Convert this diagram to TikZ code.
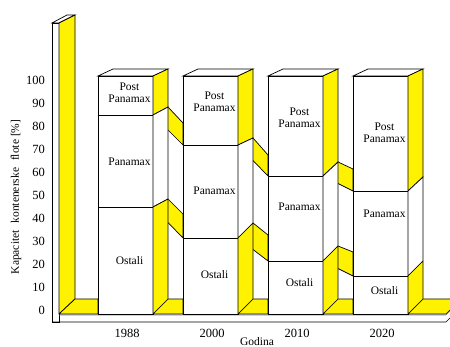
\documentclass[tikz,border=0pt]{standalone}
\usepackage{fontspec}
\setmainfont{Liberation Serif}
\begin{document}
\begin{tikzpicture}[x=1pt,y=-1pt,
    lice/.style={draw=black, fill=white, line width=0.7pt},
    bok/.style={draw=black, fill=yellow, line width=0.7pt, line join=round},
    oznaka/.style={font=\fontsize{11.5}{12}\selectfont, align=center, inner sep=0pt},
    broj/.style={font=\fontsize{12.5}{14}\selectfont, inner sep=0pt}]
    \useasboundingbox (0,0) rectangle (450,347);

    % Zid i pod
    \draw[lice] (52,23) rectangle (59,322);
    \draw[lice] (52,23) -- (67,15) -- (75,15) -- (59,23) -- cycle;
    \draw[bok] (59,23) -- (75,15) -- (75,299) -- (59,314) -- cycle;
    \draw[line width=0.7pt] (52,322) -- (446,322) -- (461,307);
    \draw[gray, line width=0.7pt] (59,315) -- (446,315) -- (461,300);
    \draw[bok] (59,314) -- (75,299) -- (98,299) -- (98,314) -- cycle;
    \draw[bok] (408,314) -- (423,299) -- (461,299) -- (446,314) -- cycle;

    % Skala
    \foreach \v in {0,10,...,100}
        \node[broj, anchor=east] (t\v) at (45,{310-2.3*\v}) {\v};
    \node[rotate=90, font=\fontsize{11.5}{12}\selectfont] (osy) at (16,197)
        {Kapacitet\hspace{4pt} kontenerske\hspace{4pt} flote [\%]};
    \node[font=\fontsize{11.5}{12}\selectfont, anchor=base] (osx) at (257,345.5) {Godina};

    % Veze izmedju stupaca
    \foreach \r/\pa/\ba/\ea/\na/\pb/\bb/\eb/\nb in
        {153/115/107/123/145/207/199/214/238,
         238/145/138/155/176/238/223/235/261,
         323/176/162/169/191/261/246/252/276}
    {
        \draw[bok] (\r,314) -- ({\r+15},299) -- ({\r+30},299) -- ({\r+30},314) -- cycle;
        \draw[bok] (\r,\pa) -- ({\r+15},\ba) -- ({\r+30},\ea) -- ({\r+30},\na) -- cycle;
        \draw[bok] (\r,\pb) -- ({\r+15},\bb) -- ({\r+30},\eb) -- ({\r+30},\nb) -- cycle;
    }

    % Stupci
    \foreach \l/\pa/\pb/\ba/\bb/\god/\ya/\yb/\yc in
        {98/115/207/107/199/1988/93/162/261,
         183/145/238/138/223/2000/102/191/275,
         268/176/261/162/246/2010/118/207/283,
         353/191/276/177/261/2020/133/214/291}
    {
        \draw[lice] (\l,76) rectangle ({\l+55},\pa);
        \draw[lice] (\l,\pa) rectangle ({\l+55},\pb);
        \draw[lice] (\l,\pb) rectangle ({\l+55},314);
        \draw[lice] (\l,76) -- ({\l+15},69) -- ({\l+70},69) -- ({\l+55},76) -- cycle;
        \draw[bok] ({\l+55},76) -- ({\l+70},69) -- ({\l+70},\ba) -- ({\l+55},\pa) -- cycle;
        \draw[lice] ({\l+55},\pa) -- ({\l+70},\ba) -- ({\l+70},\bb) -- ({\l+55},\pb) -- cycle;
        \draw[bok] ({\l+55},\pb) -- ({\l+70},\bb) -- ({\l+70},299) -- ({\l+55},314) -- cycle;
        \node[oznaka] (pp\god) at ({\l+31.5},\ya) {Post\\Panamax};
        \node[oznaka] (pm\god) at ({\l+31.5},\yb) {Panamax};
        \node[oznaka] (os\god) at ({\l+31.5},\yc) {Ostali};
        \node[broj] (g\god) at ({\l+29},333) {\god};
    }
\end{tikzpicture}
\end{document}
